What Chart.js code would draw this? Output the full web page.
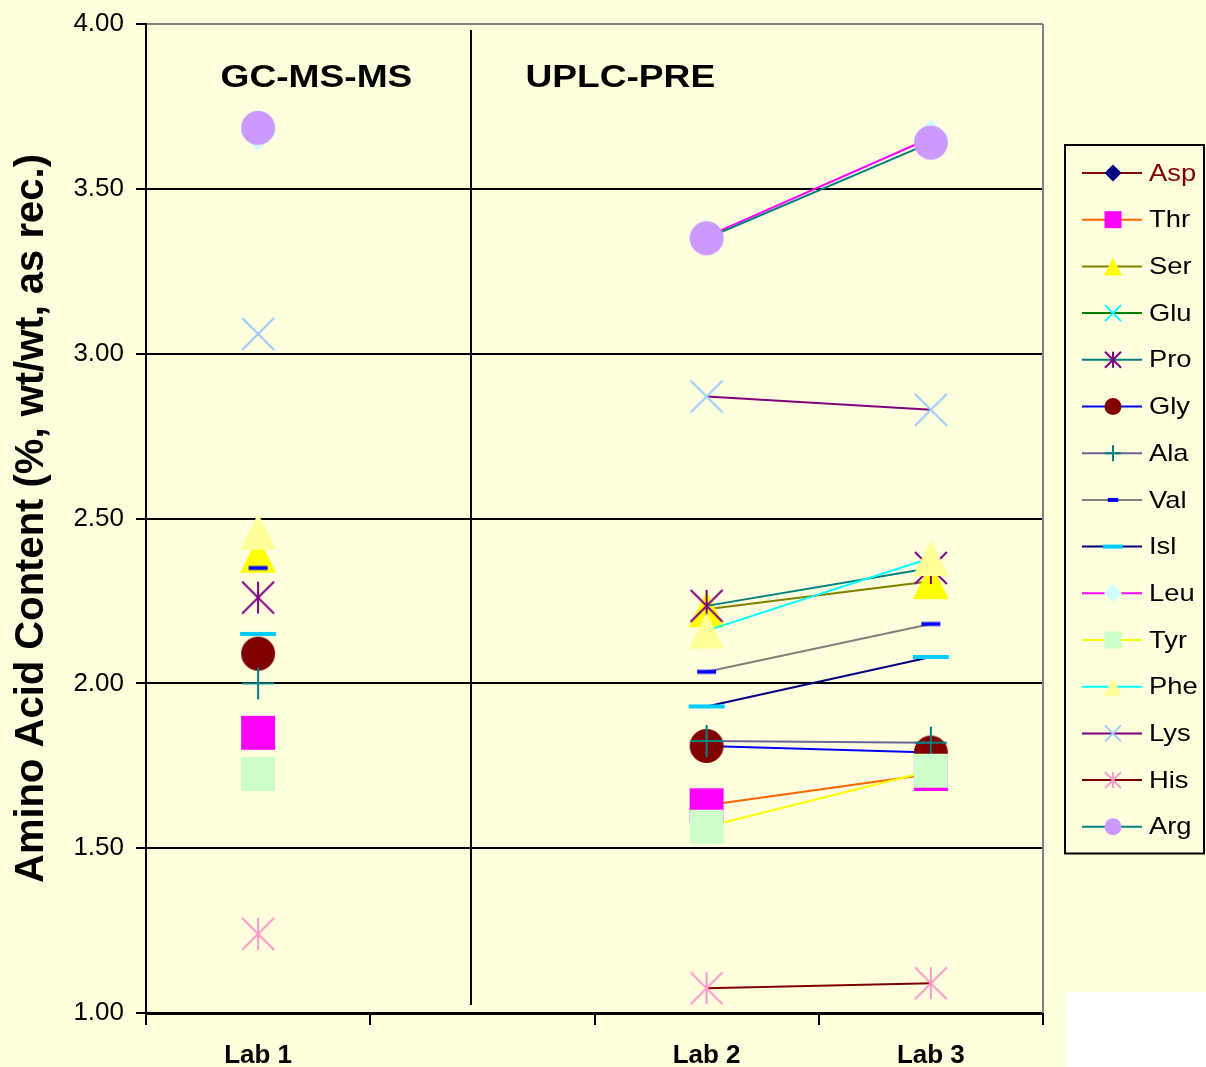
<!DOCTYPE html>
<html>
<head>
<meta charset="utf-8">
<script src="https://cdn.jsdelivr.net/npm/chart.js@4.4.1/dist/chart.umd.min.js"></script>
<style>
  html, body { margin: 0; padding: 0; background: #FFFFDD; }
  #wrap { position: relative; width: 1206px; height: 1067px; }
  #corner { position: absolute; left: 1066px; top: 992px; width: 140px; height: 75px; background: #ffffff; }
</style>
</head>
<body>
<div id="wrap">
  <canvas id="chart" width="1206" height="1067"></canvas>
  <div id="corner"></div>
</div>
<script>
// ---------------------------------------------------------------------------
// Data
// ---------------------------------------------------------------------------
const LABS = ["Lab 1", "", "Lab 2", "Lab 3"];
const Y_TICKS = [1.0, 1.5, 2.0, 2.5, 3.0, 3.5, 4.0];

const ASP = [null, null, null, null];
const THR = [1.85, null, 1.63, 1.725];
const SER = [2.39, null, 2.225, 2.31];
const GLU = [null, null, null, null];
const PRO = [2.26, null, 2.235, 2.35];
const GLY = [2.09, null, 1.81, 1.79];
const ALA = [2.0, null, 1.825, 1.82];
const VAL = [2.35, null, 2.035, 2.18];
const ISL = [2.15, null, 1.93, 2.08];
const LEU = [3.67, null, 3.355, 3.655];
const TYR = [1.725, null, 1.565, 1.735];
const PHE = [2.46, null, 2.16, 2.38];
const LYS = [3.06, null, 2.87, 2.83];
const HIS = [1.24, null, 1.075, 1.09];
const ARG = [3.685, null, 3.35, 3.64];

const SERIES_NAMES = ["Asp", "Thr", "Ser", "Glu", "Pro", "Gly", "Ala", "Val",
  "Isl", "Leu", "Tyr", "Phe", "Lys", "His", "Arg"];
const SERIES_VALUES = [ASP, THR, SER, GLU, PRO, GLY, ALA, VAL,
  ISL, LEU, TYR, PHE, LYS, HIS, ARG];

// section captions and separator, in data units (category index / y value)
const SECTION_TEXT = ["GC-MS-MS", "UPLC-PRE"];
const SECTION_AT = [0.26, 1.615];
const SECTION_Y = 3.835;
const SEPARATOR_AT = 0.95;

// ---------------------------------------------------------------------------
// Styles (Excel palette): line colour, marker kind, marker colour, marker size
// ---------------------------------------------------------------------------
const STYLES = [
  { line: "#800000", kind: "diamond", marker: "#000080", size: 34 },
  { line: "#FF6600", kind: "square", marker: "#FF00FF", size: 34 },
  { line: "#808000", kind: "triangle", marker: "#FFFF00", size: 36 },
  { line: "#008000", kind: "x", marker: "#00FFFF", size: 32 },
  { line: "#008080", kind: "asterisk", marker: "#800080", size: 32 },
  { line: "#0000FF", kind: "circle", marker: "#800000", size: 34 },
  { line: "#666699", kind: "plus", marker: "#008080", size: 32 },
  { line: "#808080", kind: "dash", marker: "#0000FF", size: 19 },
  { line: "#000080", kind: "dash", marker: "#00CCFF", size: 36 },
  { line: "#FF00FF", kind: "diamond", marker: "#CCFFFF", size: 36 },
  { line: "#FFFF00", kind: "square", marker: "#CCFFCC", size: 34 },
  { line: "#00FFFF", kind: "triangle", marker: "#FFFF99", size: 36 },
  { line: "#800080", kind: "x", marker: "#99CCFF", size: 32 },
  { line: "#800000", kind: "asterisk", marker: "#FF99CC", size: 32 },
  { line: "#008080", kind: "circle", marker: "#CC99FF", size: 34 },
];

const FONT = "'Liberation Sans', Arial, sans-serif";

// ---------------------------------------------------------------------------
// Marker drawing (shared by the chart points and the legend)
// ---------------------------------------------------------------------------
function drawMarker(ctx, kind, x, y, s, color, lw) {
  const h = s / 2;
  ctx.save();
  ctx.fillStyle = color;
  ctx.strokeStyle = color;
  ctx.lineWidth = lw || 2;
  ctx.beginPath();
  switch (kind) {
    case "circle":
      ctx.arc(x, y, h, 0, Math.PI * 2);
      ctx.fill();
      break;
    case "square":
      ctx.fillRect(x - h, y - h, s, s);
      break;
    case "diamond":
      ctx.moveTo(x, y - h);
      ctx.lineTo(x + h, y);
      ctx.lineTo(x, y + h);
      ctx.lineTo(x - h, y);
      ctx.closePath();
      ctx.fill();
      break;
    case "triangle":
      ctx.moveTo(x, y - h);
      ctx.lineTo(x + h, y + h);
      ctx.lineTo(x - h, y + h);
      ctx.closePath();
      ctx.fill();
      break;
    case "x":
      ctx.moveTo(x - h, y - h); ctx.lineTo(x + h, y + h);
      ctx.moveTo(x + h, y - h); ctx.lineTo(x - h, y + h);
      ctx.stroke();
      break;
    case "asterisk":
      ctx.moveTo(x - h, y - h); ctx.lineTo(x + h, y + h);
      ctx.moveTo(x + h, y - h); ctx.lineTo(x - h, y + h);
      ctx.moveTo(x, y - h); ctx.lineTo(x, y + h);
      ctx.stroke();
      break;
    case "plus":
      ctx.moveTo(x - h, y); ctx.lineTo(x + h, y);
      ctx.moveTo(x, y - h); ctx.lineTo(x, y + h);
      ctx.stroke();
      break;
    case "dash":
      ctx.fillRect(x - h, y - 2, s, 4);
      break;
  }
  ctx.restore();
}

// point style images for the datasets
function markerImage(style) {
  const c = document.createElement("canvas");
  c.width = style.size + 4;
  c.height = style.size + 4;
  drawMarker(c.getContext("2d"), style.kind, c.width / 2, c.height / 2, style.size, style.marker);
  return c;
}

// ---------------------------------------------------------------------------
// Plugins
// ---------------------------------------------------------------------------
const decorPlugin = {
  id: "decor",
  beforeDatasetsDraw(chart) {
    const { ctx, chartArea, scales } = chart;
    ctx.save();
    // right border of the plot area
    ctx.strokeStyle = "#808080";
    ctx.lineWidth = 2;
    ctx.beginPath();
    ctx.moveTo(chartArea.right, chartArea.top);
    ctx.lineTo(chartArea.right, chartArea.bottom);
    ctx.stroke();

    // separator between the two methods
    const sx = Math.round(scales.x.getPixelForValue(SEPARATOR_AT));
    ctx.strokeStyle = "#000";
    ctx.beginPath();
    ctx.moveTo(sx, chartArea.top + 6);
    ctx.lineTo(sx, chartArea.bottom - 8);
    ctx.stroke();

    // section captions
    ctx.fillStyle = "#000";
    ctx.font = "bold 32px " + FONT;
    ctx.textAlign = "center";
    ctx.textBaseline = "middle";
    SECTION_TEXT.forEach((t, i) => {
      ctx.save();
      ctx.translate(scales.x.getPixelForValue(SECTION_AT[i]), scales.y.getPixelForValue(SECTION_Y));
      ctx.scale(1.16, 1);
      ctx.fillText(t, 0, 0);
      ctx.restore();
    });
    ctx.restore();
  },
  afterDraw(chart) {
    const { ctx, chartArea } = chart;
    const left = chartArea.right + 22;
    const top = 145;
    const width = 139;
    const pitch = 46.7;
    const height = pitch * SERIES_NAMES.length + 8;
    ctx.save();
    ctx.strokeStyle = "#000";
    ctx.lineWidth = 2;
    ctx.strokeRect(left, top, width, height);
    ctx.font = "24px " + FONT;
    ctx.textBaseline = "middle";
    ctx.textAlign = "left";
    chart.data.datasets.forEach((ds, i) => {
      const st = STYLES[i];
      const y = top + 28 + i * pitch;
      ctx.strokeStyle = st.line;
      ctx.lineWidth = 2;
      ctx.beginPath();
      ctx.moveTo(left + 17, y);
      ctx.lineTo(left + 77, y);
      ctx.stroke();
      const ms = st.kind === "dash" ? st.size * 0.55 : st.size * 0.5;
      drawMarker(ctx, st.kind, left + 48, y, ms, st.marker, 2);
      ctx.fillStyle = i === 0 ? "#800000" : "#000";
      ctx.save();
      ctx.translate(left + 84, y + 1);
      ctx.scale(1.14, 1);
      ctx.fillText(ds.label, 0, 0);
      ctx.restore();
    });
    ctx.restore();
  },
};

// ---------------------------------------------------------------------------
// Chart
// ---------------------------------------------------------------------------
const datasets = SERIES_NAMES.map((name, i) => ({
  label: name,
  data: SERIES_VALUES[i],
  borderColor: STYLES[i].line,
  backgroundColor: STYLES[i].marker,
  borderWidth: 2,
  pointStyle: markerImage(STYLES[i]),
  pointRadius: 5,
  pointHoverRadius: 5,
  spanGaps: false,
  tension: 0,
  order: SERIES_NAMES.length - i,
}));

new Chart(document.getElementById("chart"), {
  type: "line",
  data: { labels: LABS, datasets },
  options: {
    responsive: false,
    animation: false,
    devicePixelRatio: 1,
    layout: { padding: { top: 24, right: 163, bottom: 0, left: 0 } },
    plugins: {
      legend: { display: false },
      tooltip: { enabled: false },
    },
    scales: {
      x: {
        type: "category",
        offset: true,
        afterFit: (s) => { s.height = 54; },
        grid: {
          display: true,
          drawOnChartArea: false,
          offset: true,
          tickLength: 12,
          color: "#000",
          tickColor: "#000",
          lineWidth: 2,
        },
        border: { color: "#000", width: 3 },
        ticks: {
          font: { size: 26, weight: "bold", family: FONT },
          color: "#000",
          padding: 15,
          maxRotation: 0,
          autoSkip: false,
        },
      },
      y: {
        min: 1,
        max: 4,
        afterBuildTicks: (s) => { s.ticks = Y_TICKS.map((v) => ({ value: v })); },
        afterFit: (s) => {
          s.width = 146;
          s.paddingTop = 0;
          s.paddingBottom = 0;
        },
        ticks: {
          callback: (v) => Number(v).toFixed(2),
          font: { size: 26, family: FONT },
          color: "#000",
          padding: 12,
        },
        grid: {
          color: (c) => (c.tick && c.tick.value === 4 ? "#808080" : "#000"),
          lineWidth: 2,
          tickLength: 10,
          tickColor: "#000",
        },
        border: { color: "#000", width: 2 },
        title: {
          display: true,
          text: "Amino Acid Content (%, wt/wt, as rec.)",
          font: { size: 40, weight: "bold", family: FONT },
          color: "#000",
          padding: { top: 8, bottom: 0 },
        },
      },
    },
  },
  plugins: [decorPlugin],
});
</script>
</body>
</html>
